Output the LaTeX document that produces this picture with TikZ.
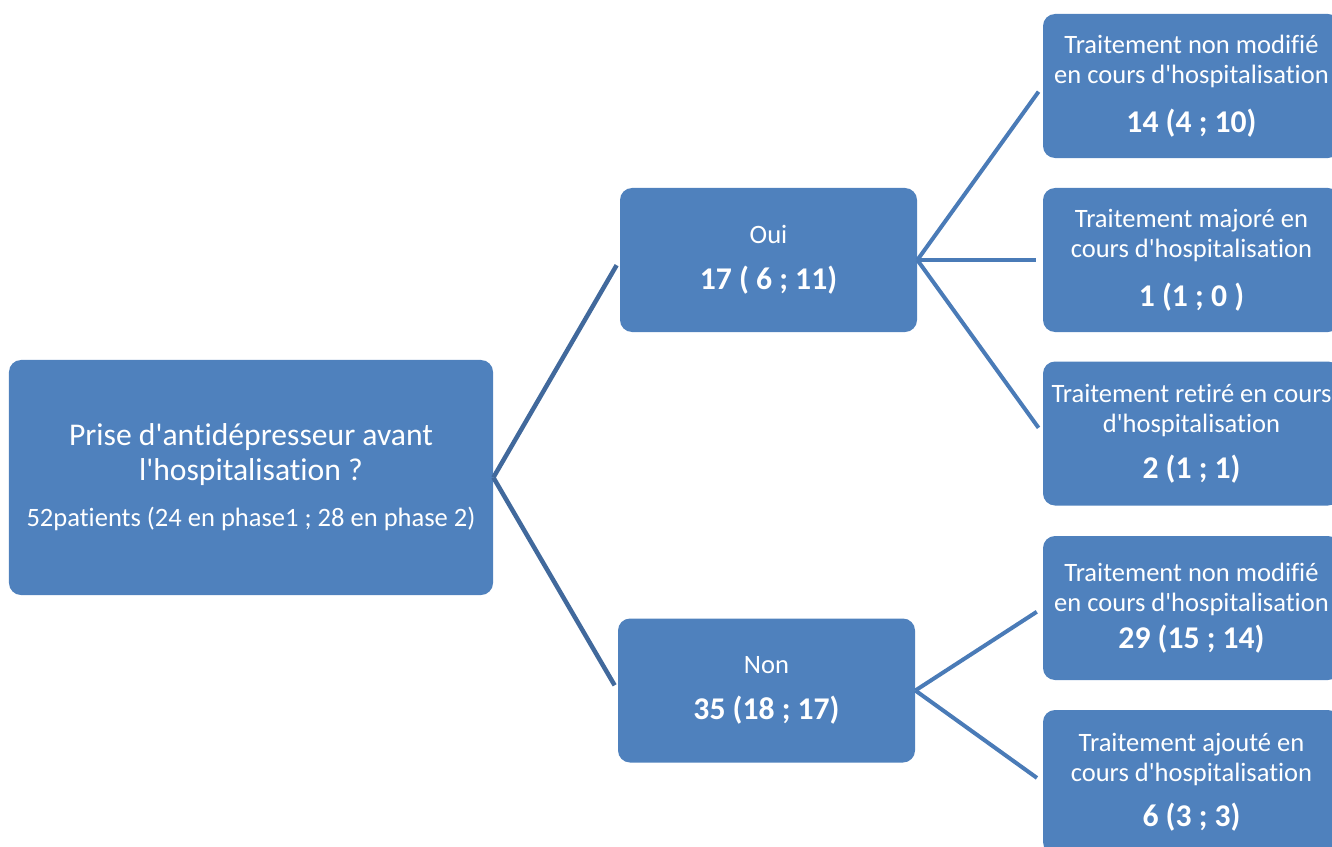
\documentclass[tikz,border=0pt]{standalone}
\usepackage{fontspec}
\setmainfont{Carlito}[Ligatures={TeXOff,NoCommon}]
\usepackage{tikz}
\usetikzlibrary{positioning}
\definecolor{boxblue}{HTML}{4F81BD}
\definecolor{linkdark}{HTML}{41699C}
\definecolor{linkblue}{HTML}{4A7BB7}
\newcommand{\txt}{\fontsize{15.1}{17}\selectfont}
\newcommand{\headtxt}{\fontsize{18}{19.8}\selectfont}
\newcommand{\num}[1]{{\fontsize{18}{20}\selectfont\bfseries #1}}
\tikzset{
  box/.style={rectangle, rounded corners=2.4mm, fill=boxblue, text=white,
    align=center, inner sep=0pt, font=\txt,
    minimum width=59.4mm, minimum height=28.8mm},
  link/.style={line width=0.8mm, draw=linkblue, shorten >=1.4mm},
  rootlink/.style={line width=0.9mm, draw=linkdark, shorten >=1.2mm}
}

\begin{document}
\begin{tikzpicture}[x=0.2mm, y=-0.2mm]
  \useasboundingbox (0,0) rectangle (1332,847);
  \clip (0,0) rectangle (1332,847);

  % Question
  \node[box, minimum width=96.8mm, minimum height=47mm, font=\headtxt] (root) at (251,477.5)
    {Prise d'antidépresseur avant\\l'hospitalisation ?\\[6.5pt]{\txt 52patients (24 en phase1 ; 28 en phase 2)}};

  % Answers
  \node[box] (oui) at (768.5,260) {Oui\\[9pt]\num{17 ( 6 ; 11)}};
  \node[box] (non) at (766.5,690.5) {Non\\[9pt]\num{35 (18 ; 17)}};

  % Outcomes
  \node[box] (oui-a) at (1191.5,86) {Traitement non modifié\\en cours d'hospitalisation\\[10.8pt]\num{14 (4 ; 10)}};
  \node[box] (oui-b) at (1191.5,260) {Traitement majoré en\\cours d'hospitalisation\\[10.8pt]\num{1 (1 ; 0 )}};
  \node[box] (oui-c) at (1191.5,433.5) {Traitement retiré en cours\\d'hospitalisation\\[9pt]\num{2 (1 ; 1)}};
  \node[box] (non-a) at (1191.5,608) {Traitement non modifié\\en cours d'hospitalisation\\[4pt]\num{29 (15 ; 14)}};
  \node[box] (non-b) at (1191.5,782) {Traitement ajouté en\\cours d'hospitalisation\\[8.5pt]\num{6 (3 ; 3)}};

  % Branches
  \draw[rootlink] (root.east) -- (oui.west);
  \draw[rootlink] (root.east) -- (non.west);
  \foreach \k in {oui-a, oui-b, oui-c} \draw[link] (oui.east) -- (\k.west);
  \foreach \k in {non-a, non-b} \draw[link] (non.east) -- (\k.west);
\end{tikzpicture}
\end{document}
